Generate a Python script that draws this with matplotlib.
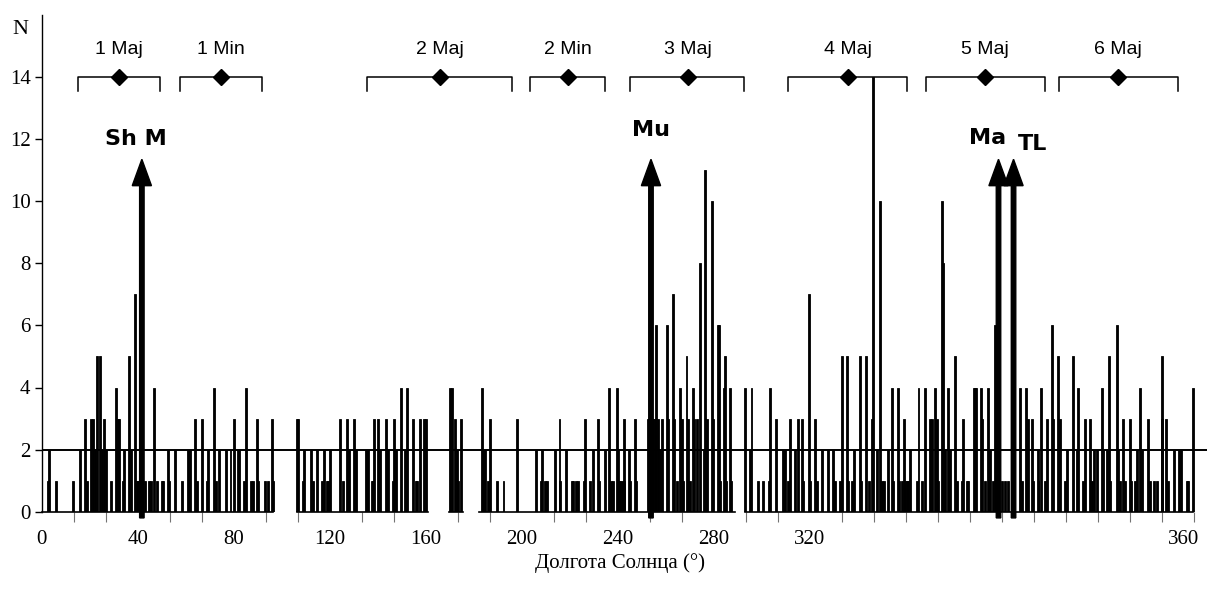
import matplotlib
matplotlib.use('Agg')
import matplotlib.pyplot as plt
import numpy as np

# ---------------- data ----------------
longitudes = [
    1.9, 2.3, 4.4, 9.7, 12.0, 13.5, 14.1, 15.4, 16.1, 16.7, 17.4, 18.2, 18.7, 19.6, 20.0, 21.7,
    23.2, 23.7, 24.2, 25.5, 25.8, 27.2, 27.9, 29.2, 29.7, 30.2, 32.3, 33.5, 34.2, 35.2, 36.0,
    37.5, 38.0, 39.4, 39.8, 41.7, 43.7, 45.6, 46.2, 47.9, 48.4, 50.0, 51.6, 52.1, 53.8, 54.4,
    55.5, 57.5, 59.0, 60.1, 61.2, 61.7, 63.3, 63.7, 65.4, 66.1, 67.2, 67.7, 69.8, 70.8, 71.9,
    72.2, 79.9, 80.2, 81.6, 82.1, 84.2, 84.9, 85.9, 87.5, 88.1,
    89.1, 89.6, 90.1, 93.2, 94.2, 95.3, 95.6, 96.1, 97.7, 98.1, 101.3, 101.9, 103.1, 103.6,
    103.9, 105.2, 105.7, 107.5, 108.0, 108.3, 109.7, 110.1, 110.7, 112.3, 113.5, 114.2, 116.1,
    117.0, 117.4, 118.2, 119.6, 120.1, 127.6, 128.1, 129.1, 129.7, 130.2, 131.0, 137.5, 138.0,
    138.4, 139.6, 140.1, 142.2, 144.3, 148.4, 154.4, 156.0, 156.2, 157.3, 157.8, 160.4, 161.8,
    162.0, 163.7, 165.6, 166.1, 167.1, 167.6, 169.6, 169.8, 171.3, 172.4, 173.8, 174.2, 176.0,
    177.4, 178.0, 178.5, 179.8, 180.2,
    180.3, 180.8, 181.3, 182.0, 182.1, 183.6, 183.9, 185.3, 185.7, 189.6, 190.0, 190.9, 191.7,
    191.9, 192.5, 193.2, 193.7, 195.3, 195.8, 197.4, 197.7, 198.4, 199.5, 200.0, 200.3, 201.5,
    202.1, 202.6, 203.6, 204.0, 204.7, 205.7, 206.8, 207.3, 207.8, 209.4, 209.7, 211.3, 211.7,
    212.1, 213.1, 213.4, 213.7, 215.0, 215.5,
    219.9, 221.3, 221.8, 223.7, 225.4, 227.2, 227.5, 229.6, 231.7, 232.3, 233.3, 233.8, 235.4,
    236.3, 237.5, 238.0, 239.8, 240.1, 241.6, 242.2, 243.7, 245.8, 247.4, 247.9, 249.5, 250.0,
    251.6, 252.1, 253.2, 253.9, 255.6, 256.1, 257.5, 258.4, 259.6, 259.9, 260.9, 262.0, 262.5,
    263.3, 264.6, 265.6, 266.1, 267.5, 267.9, 268.8, 269.4,
    269.8, 270.3, 270.8, 271.4, 273.4, 274.0, 275.2, 276.0, 277.6, 278.1, 279.2, 279.7, 280.2,
    281.3, 281.8, 282.3, 283.3, 283.9, 285.4, 285.9, 287.5, 288.0, 289.1, 289.6, 291.4, 291.7,
    292.1, 293.6, 293.8, 294.8, 295.8, 296.4, 297.4, 297.9, 300.0, 301.1, 302.1, 305.7, 306.3,
    307.6, 308.1, 309.4, 309.9, 311.3, 311.5, 312.2, 313.5, 314.1, 315.6, 315.9, 317.7, 318.2,
    319.8, 320.3, 322.2, 323.4, 323.8, 325.3, 326.0, 327.6, 328.1, 328.7, 329.7, 331.3, 331.8,
    332.8, 333.6, 333.9, 336.0, 336.5, 337.0, 338.0, 338.5, 340.1, 340.4, 341.7, 342.4, 343.2,
    343.8, 345.8, 346.4, 347.7, 348.4, 350.0, 350.2, 351.3, 352.1, 353.7, 355.4, 355.9, 357.8,
    358.3, 359.9,
]
counts = [
    1, 2, 1, 1, 2, 3, 1, 3, 3, 2, 5, 5, 2, 3, 2, 1,
    4, 3, 3, 1, 2, 5, 2, 7, 1, 1, 1, 1, 1, 4, 1,
    1, 1, 2, 1, 2, 1, 2, 2, 3, 1, 3, 1, 2, 4, 1,
    2, 2, 2, 3, 2, 2, 1, 4, 1, 1, 3, 1, 1, 1, 3,
    1, 3, 3, 1, 2, 2, 1, 2, 1, 2,
    1, 1, 2, 3, 1, 3, 2, 2, 3, 2, 2, 2, 1, 1,
    3, 3, 2, 3, 2, 2, 1, 3, 2, 4, 2, 4, 3,
    1, 1, 3, 3, 3, 4, 4, 3, 2, 1, 3, 4, 2,
    2, 1, 3, 1, 1, 3, 2, 1, 2, 1, 1, 2, 3,
    1, 2, 1, 1, 1, 1, 1, 3, 1, 2, 3, 1, 2,
    4, 1, 1, 4, 2,
    1, 1, 1, 1, 3, 2, 1, 3, 1, 3, 3, 3, 3,
    6, 3, 2, 3, 6, 3, 7, 3, 1, 4, 3, 1, 5,
    3, 1, 4, 3, 3, 8, 2, 11, 3, 10, 3, 6, 6,
    1, 4, 5, 1, 4, 1,
    4, 2, 4, 1, 1, 1, 4, 3, 2, 2, 1, 3, 2,
    3, 3, 1, 7, 1, 3, 1, 2, 2, 2, 1, 1, 5,
    5, 1, 1, 2, 5, 1, 5, 1, 3, 14, 2, 10, 1,
    1, 2, 4, 1, 4, 1, 1, 3,
    1, 1, 1, 2, 1, 4, 1, 4, 3, 3, 4, 3, 1,
    10, 8, 2, 4, 2, 5, 1, 1, 3, 1, 1, 4, 4,
    4, 4, 3, 1, 4, 2, 1, 6, 1, 1, 1, 4, 1,
    4, 3, 3, 1, 2, 1, 4, 1, 3, 6, 3, 5, 3,
    1, 2, 5, 2, 4, 1, 3, 3, 1, 2, 2, 4, 2,
    2, 5, 1, 6, 2, 1, 3, 1, 3, 1, 1, 2, 4,
    2, 3, 1, 1, 1, 5, 3, 3, 1, 2, 2, 2, 1,
    1, 4,
]

coverage_start = [0.0, 79.7, 127.3, 136.7, 219.8]
coverage_end = [72.4, 120.8, 131.6, 216.7, 359.9]
threshold = 2

shower_names = ['1 Maj', '1 Min', '2 Maj', '2 Min', '3 Maj', '4 Maj', '5 Maj', '6 Maj']
shower_start = [11.25, 43.2, 101.7, 152.5, 183.9, 233.2, 276.3, 317.9]
shower_peak = [24.2, 55.9, 124.4, 164.5, 201.9, 252.0, 294.9, 336.3]
shower_end = [37.1, 68.9, 147.1, 176.0, 219.5, 270.4, 313.4, 355.0]
shower_level = 14

stream_names = ['Sh M', 'Mu', 'Ma', 'TL']
stream_lon = [31.3, 190.4, 299.0, 303.7]

x_tick_pos = [0, 30, 60, 90, 120, 150, 180, 210, 240, 356.7]
x_tick_labels = ['0', '40', '80', '120', '160', '200', '240', '280', '320', '360']
y_ticks = [0, 2, 4, 6, 8, 10, 12, 14]

# ---------------- plot ----------------
serif = 'Liberation Serif'
sans = 'Liberation Sans'

fig = plt.figure(figsize=(12.1, 5.99), dpi=100)
ax = fig.add_axes([41.7 / 1210, 87.3 / 599, (1207 - 41.7) / 1210, 16 * 31.05 / 599])
ax.set_xlim(0, (1207 - 41.7) / 3.2)
ax.set_ylim(0, 16)

ax.bar(longitudes, counts, width=0.6, color='black', edgecolor='black', linewidth=0.6,
       align='center', zorder=2)

for s, e in zip(coverage_start, coverage_end):
    ax.plot([s, e], [0, 0], color='black', lw=1.2, clip_on=False, zorder=3)

ax.axhline(threshold, color='black', lw=1.4, zorder=4)

for name, s, p, e in zip(shower_names, shower_start, shower_peak, shower_end):
    ax.plot([s, s, e, e], [shower_level - 0.45, shower_level, shower_level, shower_level - 0.45],
            color='black', lw=1.1, zorder=3)
    ax.plot([p], [shower_level], marker='D', ms=8, color='black', zorder=5)
    ax.text(p, shower_level + 0.87, name, ha='center', va='center', fontsize=14, family=sans)

label_dx = {'Sh M': -2.0, 'Mu': 0.0, 'Ma': -3.3, 'TL': 5.8}
label_y = {'Sh M': 12.0, 'Mu': 12.3, 'Ma': 12.05, 'TL': 11.85}
for name, lon in zip(stream_names, stream_lon):
    ax.arrow(lon, -0.2, 0, 11.55, width=1.4, head_width=6.0, head_length=0.85,
             length_includes_head=True, fc='black', ec='black', clip_on=False, zorder=6)
    ax.text(lon + label_dx[name], label_y[name], name, ha='center', va='center',
            fontsize=16, fontweight='bold', family='DejaVu Sans')

for side in ['top', 'right', 'bottom']:
    ax.spines[side].set_visible(False)
ax.spines['left'].set_linewidth(1.0)

ax.set_yticks(y_ticks)
ax.set_yticklabels([str(v) for v in y_ticks], family=serif, fontsize=15)
ax.tick_params(axis='y', direction='out', length=5, width=1, pad=3)

ax.set_xticks(x_tick_pos)
ax.set_xticklabels(x_tick_labels, family=serif, fontsize=15)
ax.set_xticks(np.arange(0, 361, 10), minor=True)
ax.tick_params(axis='x', which='major', length=0, pad=13)
ax.tick_params(axis='x', which='minor', direction='out', length=7, width=0.8, color='0.45')

fig.text(20 / 1210, 1 - 30 / 599, 'N', ha='center', va='center', family=serif, fontsize=16)
fig.text(620 / 1210, 1 - 563 / 599, 'Долгота Солнца (°)', ha='center', va='center',
         family=serif, fontsize=15)

fig.savefig('out.png', dpi=100)
